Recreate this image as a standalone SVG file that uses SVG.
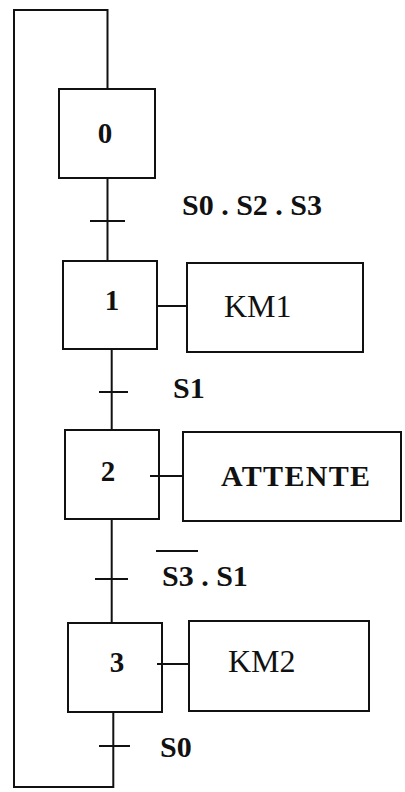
<svg xmlns="http://www.w3.org/2000/svg" width="405" height="792" viewBox="0 0 405 792">
<style>
.box{fill:none;stroke:#111;stroke-width:2}
.ln{fill:none;stroke:#111;stroke-width:2}
.num{font-family:"Liberation Serif",serif;font-weight:bold;font-size:29px;fill:#111;text-anchor:middle}
.lbl{font-family:"Liberation Serif",serif;font-weight:bold;font-size:30px;fill:#111}
.act{font-family:"Liberation Serif",serif;font-size:32px;fill:#111}
</style>
<rect width="405" height="792" fill="#fff"/>
<g id="connectors">
<path class="ln" d="M107.5,89 V10 H14 V787 H113.3 V712"/>
<path class="ln" d="M107.5,178 V261"/>
<path class="ln" d="M90,221 H125"/>
<path class="ln" d="M111.7,349 V430"/>
<path class="ln" d="M99,392 H128"/>
<path class="ln" d="M111.7,519 V623"/>
<path class="ln" d="M95,579 H128"/>
<path class="ln" d="M99,746 H130"/>
<path class="ln" d="M157,306 H187"/>
<path class="ln" d="M150,476 H183"/>
<path class="ln" d="M157,664 H189"/>
</g>
<g id="t01"><text class="lbl" x="182" y="215">S0 . S2 . S3</text></g>
<g id="t12"><text class="lbl" x="173" y="398">S1</text></g>
<g id="t23"><path class="ln" d="M156,551 H198"/><text class="lbl" x="162" y="586">S3 . S1</text></g>
<g id="t30"><text class="lbl" x="160" y="757">S0</text></g>
<g id="step0"><rect class="box" x="59" y="89" width="96" height="89"/><text class="num" x="105" y="143">0</text></g>
<g id="step1"><rect class="box" x="63" y="261" width="94" height="88"/><text class="num" x="112" y="310">1</text></g>
<g id="step2"><rect class="box" x="65" y="430" width="94" height="89"/><text class="num" x="108" y="481">2</text></g>
<g id="step3"><rect class="box" x="68" y="623" width="94" height="89"/><text class="num" x="117" y="672">3</text></g>
<g id="action1"><rect class="box" x="187" y="263" width="176" height="89"/><text class="act" x="224" y="317">KM1</text></g>
<g id="action2"><rect class="box" x="183" y="432" width="218" height="89"/><text class="lbl" x="221" y="486" textLength="149">ATTENTE</text></g>
<g id="action3"><rect class="box" x="189" y="621" width="180" height="90"/><text class="act" x="228" y="672">KM2</text></g>
</svg>
